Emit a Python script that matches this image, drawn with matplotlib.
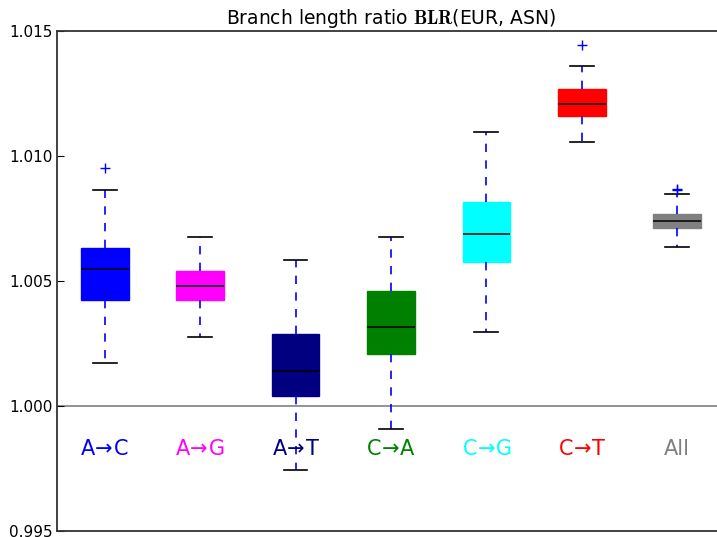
import matplotlib
matplotlib.use("Agg")
import matplotlib.pyplot as plt

# mutation classes and their colours
labels = [r"A$\!\rightarrow\!$C", r"A$\!\rightarrow\!$G", r"A$\!\rightarrow\!$T", r"C$\!\rightarrow\!$A",
          r"C$\!\rightarrow\!$G", r"C$\!\rightarrow\!$T", "All"]
colors = ["blue", "magenta", "navy", "green", "cyan", "red", "gray"]

# box summary per class
whislo = [1.00172, 1.00276, 0.99744, 0.99908, 1.00296, 1.01056, 1.00636]
q1 = [1.00424, 1.00424, 1.00040, 1.00208, 1.00576, 1.01160, 1.00712]
med = [1.00548, 1.00480, 1.00140, 1.00316, 1.00688, 1.01208, 1.00740]
q3 = [1.00632, 1.00540, 1.00288, 1.00460, 1.00816, 1.01268, 1.00768]
whishi = [1.00864, 1.00676, 1.00584, 1.00676, 1.01096, 1.01360, 1.00848]
fliers = [[1.00952], [], [], [], [], [1.01444], [1.00868, 1.00864]]

label_y = 0.99828

fig = plt.figure(figsize=(7.17, 5.37), dpi=100)
ax = fig.add_axes([57 / 717, 6 / 537, 668 / 717, 500 / 537])

stats = []
for i in range(len(labels)):
    stats.append(dict(whislo=whislo[i], q1=q1[i], med=med[i], q3=q3[i],
                      whishi=whishi[i], fliers=fliers[i]))

positions = list(range(1, len(labels) + 1))
bp = ax.bxp(stats, positions=positions, widths=0.5, patch_artist=True,
            showcaps=True, showfliers=True,
            whiskerprops=dict(color="blue", linestyle=(0, (5, 5)), linewidth=1.2),
            capprops=dict(color="black", linewidth=1.2),
            medianprops=dict(color="black", linewidth=1.1),
            flierprops=dict(marker="+", markeredgecolor="blue", markersize=7,
                            linestyle="none"))
for box, c in zip(bp["boxes"], colors):
    box.set_facecolor(c)
    box.set_edgecolor(c)
    box.set_linewidth(1.0)

ax.axhline(1.0, color="gray", linewidth=1.2, zorder=0)

for x, lab, c in zip(positions, labels, colors):
    ax.text(x, label_y, lab, color=c, ha="center", va="center", fontsize=15)

ax.set_xlim(0.5, 7.5)
ax.set_ylim(0.995, 1.015)
ax.set_yticks([0.995, 1.000, 1.005, 1.010, 1.015])
ax.set_yticklabels(["0.995", "1.000", "1.005", "1.010", "1.015"])
ax.set_xticks([])
ax.tick_params(axis="y", direction="in", length=5, labelsize=11, right=True, pad=3)
for s in ax.spines.values():
    s.set_color("#333333")
    s.set_linewidth(1.3)

ax.set_title(r"Branch length ratio $\mathbf{BLR}$(EUR, ASN)", fontsize=13.5,
             math_fontfamily="cm", pad=5)

fig.savefig("out.png", dpi=100)
